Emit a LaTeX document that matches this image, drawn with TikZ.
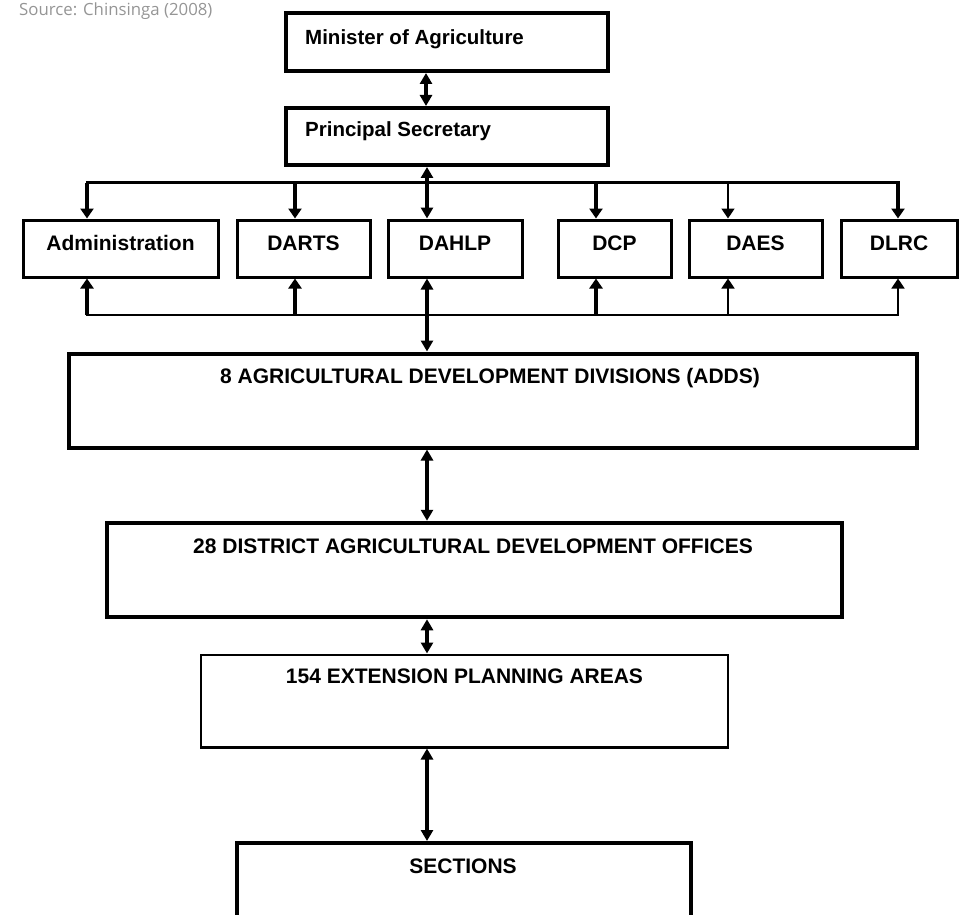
\documentclass[tikz,border=0pt]{standalone}
\usepackage{fontspec}
\setmainfont{Liberation Sans}
\newfontfamily\srcfont{Open Sans}
\usetikzlibrary{arrows.meta}
\definecolor{srcgray}{HTML}{959595}
\begin{document}
\begin{tikzpicture}[x=1pt,y=-1pt,
  box/.style={draw, rectangle, inner sep=0pt, line width=#1},
  lbl/.style={inner sep=0pt, font=\bfseries\fontsize{21pt}{24pt}\selectfont},
  toplbl/.style={inner sep=0pt, font=\bfseries\fontsize{20.5pt}{24pt}\selectfont},
  tipd/.style={-{Triangle[width=13pt,length=10pt]}},
  bidir/.style={{Triangle[width=12pt,length=11pt]}-{Triangle[width=12pt,length=11pt]}, line width=3.5pt},
  thickarr/.style={tipd, line width=3.5pt},
  thinarr/.style={tipd, line width=1.6pt}
]
\useasboundingbox (0,0) rectangle (959,915);
\clip (0,0) rectangle (959,915);

% source
\node[anchor=base west, inner sep=0pt, text=srcgray, font=\srcfont\fontsize{16.8pt}{19pt}\selectfont] (src) at (19,15.5) {Source: Chinsinga (2008)};

% top boxes
\node[box=4pt, minimum width=322pt, minimum height=58pt] (min) at (447,42) {};
\node[toplbl, anchor=base west] (mint) at (305,45) {Minister of Agriculture};
\node[box=4pt, minimum width=322pt, minimum height=57pt] (ps) at (447,136.5) {};
\node[toplbl, anchor=base west] (pst) at (305,137) {Principal Secretary};

% row boxes
\node[box=3pt, minimum width=195pt, minimum height=57pt] (adm) at (120.5,248.5) {};
\node[box=3pt, minimum width=133pt, minimum height=57pt] (darts) at (303.5,248.5) {};
\node[box=3pt, minimum width=134pt, minimum height=57pt] (dahlp) at (455,248.5) {};
\node[box=3pt, minimum width=113pt, minimum height=57pt] (dcp) at (614.5,248.5) {};
\node[box=3pt, minimum width=133pt, minimum height=57pt] (daes) at (755.5,248.5) {};
\node[box=3pt, minimum width=116pt, minimum height=57pt] (dlrc) at (899,248.5) {};
\node[lbl, anchor=base] (admt) at (120.5,251) {Administration};
\node[lbl, anchor=base] (dartst) at (303.5,251) {DARTS};
\node[lbl, anchor=base] (dahlpt) at (455,251) {DAHLP};
\node[lbl, anchor=base] (dcpt) at (614.5,251) {DCP};
\node[lbl, anchor=base] (daest) at (755.5,251) {DAES};
\node[lbl, anchor=base] (dlrct) at (899,251) {DLRC};

% lower boxes
\node[box=4pt, minimum width=848pt, minimum height=94pt] (adds) at (493,400.5) {};
\node[lbl, anchor=base] (addst) at (490,383) {8 AGRICULTURAL DEVELOPMENT DIVISIONS (ADDS)};
\node[box=4pt, minimum width=735pt, minimum height=94.5pt] (dado) at (474.5,570) {};
\node[lbl, anchor=base] (dadot) at (473,553) {28 DISTRICT AGRICULTURAL DEVELOPMENT OFFICES};
\node[box=2.5pt, minimum width=527pt, minimum height=92.5pt] (epa) at (464.5,701) {};
\node[lbl, anchor=base] (epat) at (464.5,683) {154 EXTENSION PLANNING AREAS};
\node[box=4pt, minimum width=454pt, minimum height=100pt] (sec) at (464,893) {};
\node[lbl, anchor=base] (sect) at (463,873) {SECTIONS};

% coordinates
\coordinate (ca) at (426,90);
\coordinate (cx) at (427,183);
\coordinate (tl) at (87,183);
\coordinate (tr) at (898,183);
\coordinate (bl) at (87,315);
\coordinate (br) at (898,315);
\coordinate (xdarts) at (295,183);
\coordinate (xdcp) at (596,183);
\coordinate (xdaes) at (728,183);

% minister - principal
\draw[bidir] (min.south -| ca) -- (ps.north -| ca);

% top distribution line
\draw[line width=3pt, line cap=rect] (tl) -- (tr);
\draw[thickarr] (tl) -- (tl |- adm.north);
\draw[thickarr] (xdarts) -- (xdarts |- darts.north);
\draw[bidir] (ps.south -| cx) -- (dahlp.north -| cx);
\draw[thickarr] (xdcp) -- (xdcp |- dcp.north);
\draw[thinarr] (xdaes) -- (xdaes |- daes.north);
\draw[thickarr] (tr) -- (tr |- dlrc.north);

% bottom collection line
\draw[line width=2pt, line cap=rect] (bl) -- (br);
\draw[thickarr] (bl) -- (bl |- adm.south);
\draw[thickarr] (bl -| xdarts) -- (xdarts |- darts.south);
\draw[thickarr] (bl -| xdcp) -- (xdcp |- dcp.south);
\draw[thinarr] (bl -| xdaes) -- (xdaes |- daes.south);
\draw[thinarr] (br) -- (br |- dlrc.south);

% vertical chain
\draw[bidir] (dahlp.south -| cx) -- (adds.north -| cx);
\draw[bidir] (adds.south -| cx) -- (dado.north -| cx);
\draw[bidir] (dado.south -| cx) -- (epa.north -| cx);
\draw[bidir] (epa.south -| cx) -- (sec.north -| cx);
\end{tikzpicture}
\end{document}
